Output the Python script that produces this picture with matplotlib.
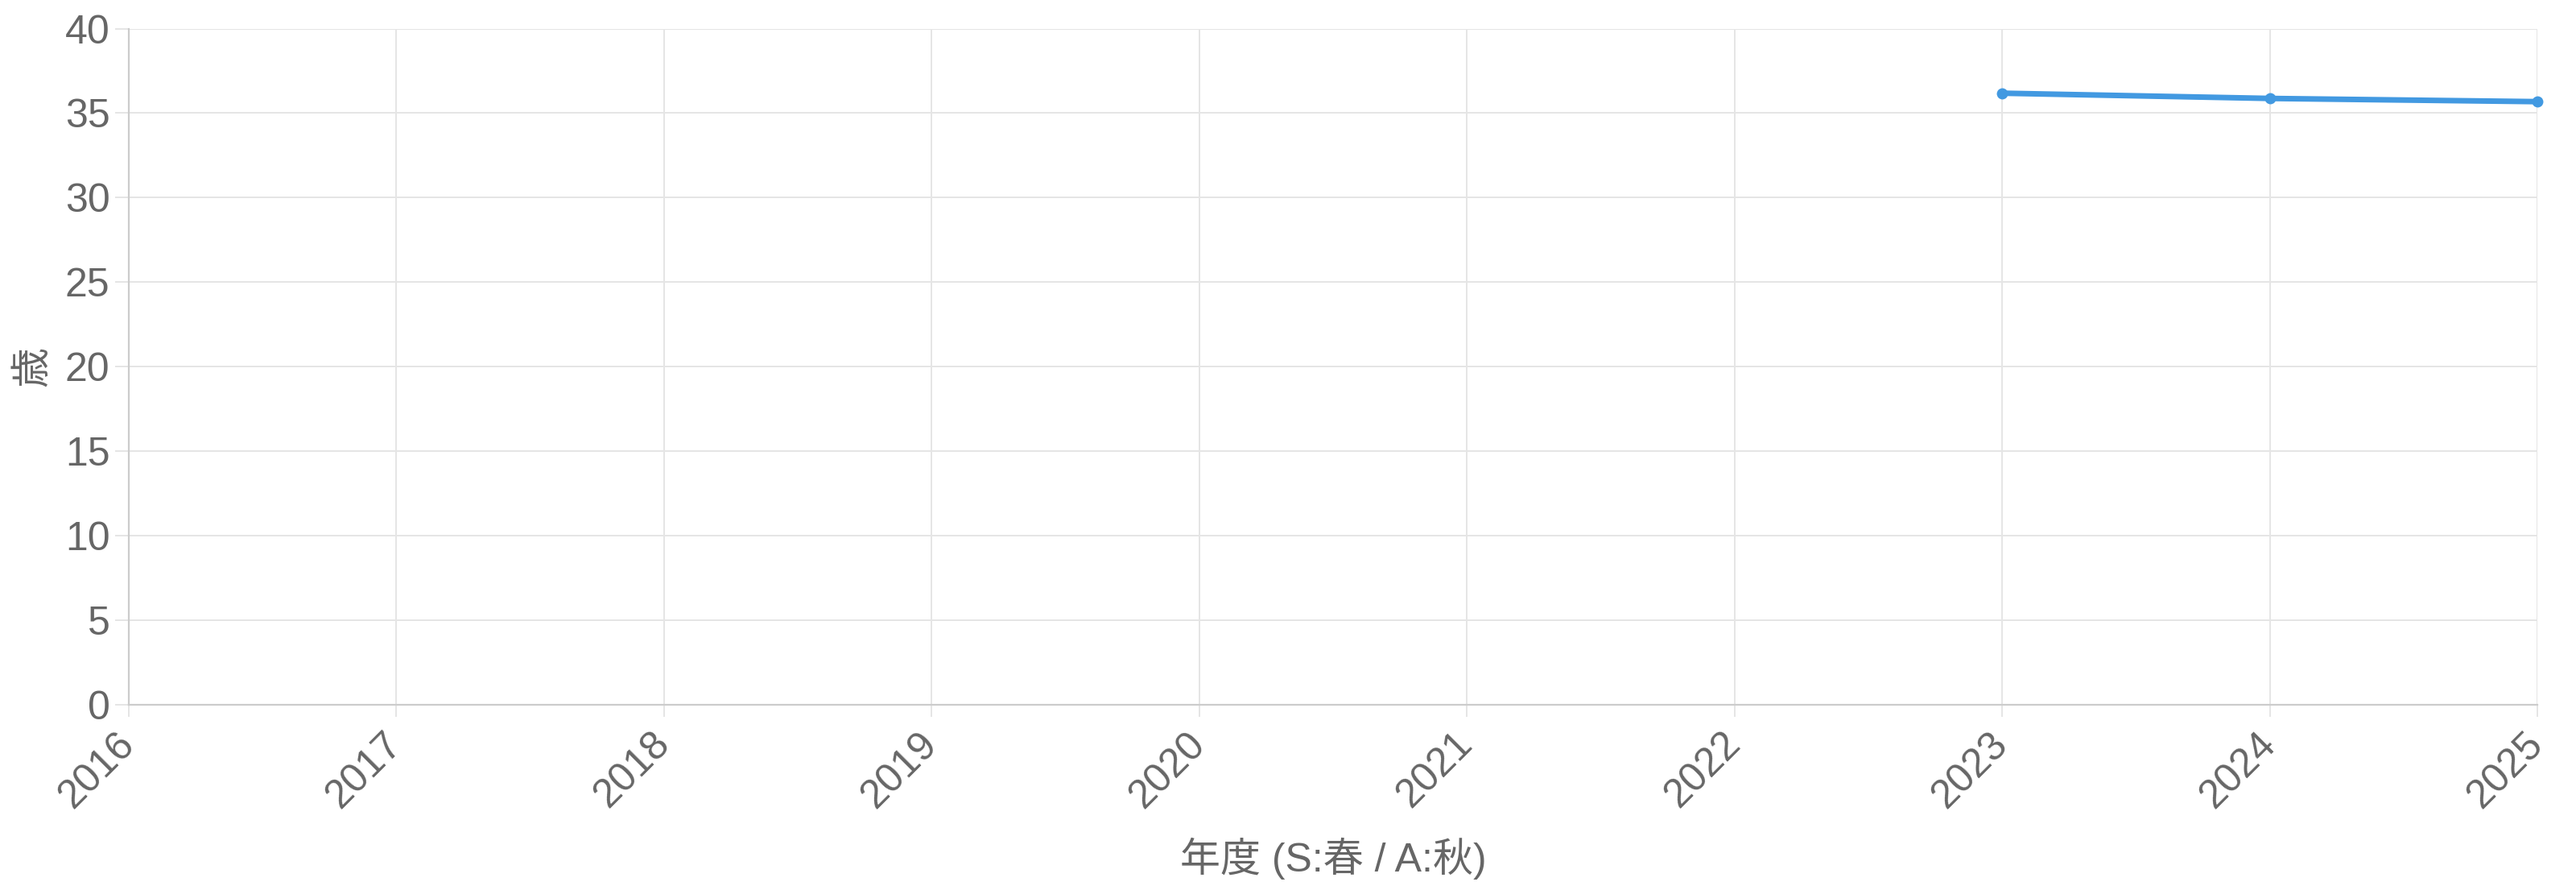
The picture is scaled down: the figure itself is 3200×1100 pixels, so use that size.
import matplotlib
matplotlib.use("Agg")
import matplotlib.pyplot as plt

# ── Data ────────────────────────────────────────────────────────────────
YEARS = [2016, 2017, 2018, 2019, 2020, 2021, 2022, 2023, 2024, 2025]
SERIES_YEARS = [2023, 2024, 2025]
AGE_VALUES = [36.18, 35.87, 35.68]
Y_TICKS = [0, 5, 10, 15, 20, 25, 30, 35, 40]

TEXT = "#666666"
GRID = "#e5e5e5"
AXIS = "#cccccc"
LINE = "#4299e1"

plt.rcParams["font.family"] = ["Liberation Sans", "Noto Sans CJK JP", "DejaVu Sans"]

fig = plt.figure(figsize=(32, 11), dpi=100)
ax = fig.add_axes([0.05, 0.2045, 0.935, 0.7632])

ax.plot(SERIES_YEARS, AGE_VALUES, color=LINE, linewidth=5,
        marker="o", markersize=10, markeredgewidth=0, zorder=3,
        clip_on=False)

ax.set_xlim(YEARS[0], YEARS[-1])
ax.set_ylim(0, 40)
ax.set_xticks(YEARS)
ax.set_xticklabels([str(y) for y in YEARS], rotation=45, ha="right",
                   va="center", rotation_mode="anchor")
ax.set_yticks(Y_TICKS)

ax.grid(True, color=GRID, linewidth=1.4)
ax.set_axisbelow(True)
for side in ("top", "right"):
    ax.spines[side].set_visible(False)
for side in ("left", "bottom"):
    ax.spines[side].set_color(AXIS)
    ax.spines[side].set_linewidth(1.6)

ax.tick_params(axis="both", colors=GRID, labelcolor=TEXT, labelsize=36,
               width=1.4)
ax.tick_params(axis="x", length=11, pad=19)
ax.tick_params(axis="y", length=12, pad=5)

ax.set_xlabel("年度 (S:春 / A:秋)", fontsize=36, color=TEXT, labelpad=20)
ax.set_ylabel("歳", fontsize=36, color=TEXT, labelpad=12)

fig.savefig("out.png", dpi=100, facecolor="white")
